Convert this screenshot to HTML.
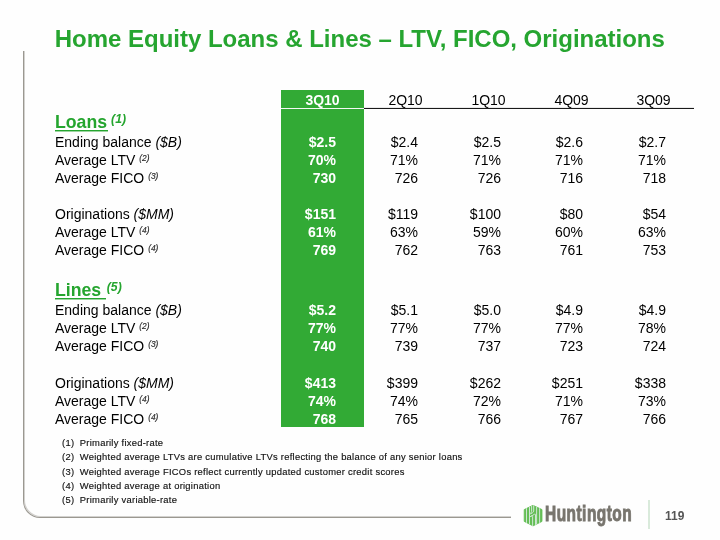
<!DOCTYPE html>
<html>
<head>
<meta charset="utf-8">
<style>
*{margin:0;padding:0;box-sizing:border-box}
html{background:#fefefe}body{width:720px;height:540px;overflow:hidden;will-change:transform}
body{position:relative;font-family:"Liberation Sans",Arial,sans-serif;color:#000}
.title{position:absolute;left:54.8px;top:25px;font-size:24px;font-weight:bold;color:#26a530;letter-spacing:-0.015px;white-space:nowrap;line-height:28px}
.frame{position:absolute;left:23px;top:51px;width:488px;height:467px;border-left:1px solid #9b9891;border-bottom:1px solid #9b9891;border-bottom-left-radius:17px;box-shadow:inset 1px -1px 0 rgba(160,158,150,0.45)}
.green{position:absolute;left:281px;top:90px;width:83px;height:337px;background:#32aa35}
.wline{position:absolute;left:281px;top:108px;width:83px;height:1px;background:#f4f8f4}
.bline{position:absolute;left:364px;top:108px;width:330px;height:1px;background:#1a1a1a;box-shadow:0 -1px 0 rgba(0,0,0,0.08)}
.row{position:absolute;left:0;width:720px;height:18px;line-height:18px;font-size:14px;white-space:nowrap}
.row .l{position:absolute;left:55px}
.row .v{position:absolute;text-align:right;width:80px}
.row .c1{left:256px;color:#fff;font-weight:bold}
.row .c2{left:338px}
.row .c3{left:421px}
.row .c4{left:503px}
.row .c5{left:586px}
.hdr .v{text-align:center;width:83px}
.hdr .c1{left:281px}
.hdr .c2{left:364px;font-weight:normal}
.hdr .c3{left:447px}
.hdr .c4{left:530px}
.hdr .c5{left:612px}
sup{font-size:8.4px;font-style:italic;color:#2a2a2a;vertical-align:0;position:relative;top:-4px;margin-left:0;-webkit-text-stroke:0.15px #2a2a2a}
.sec{position:absolute;left:55px;font-size:17.7px;font-weight:bold;color:#25a52f;line-height:20px;white-space:nowrap}
.sec i{font-size:12.2px;position:relative;top:-5px}
.ul{position:absolute;left:55px;height:1px;background:#25a52f;box-shadow:0 1px 0 rgba(37,165,47,0.45)}
.fn{position:absolute;left:62px;font-size:9.4px;letter-spacing:0.27px;line-height:14px;color:#111;white-space:nowrap;-webkit-text-stroke:0.15px #111}
.fn b{font-weight:normal;display:inline-block;width:17.8px}
.logo{position:absolute;left:522px;top:504px}
.ltxt{position:absolute;left:544.8px;top:502px;font-size:22.4px;font-weight:bold;color:#78756e;transform:scaleX(0.69);transform-origin:0 0;letter-spacing:0.7px;white-space:nowrap;line-height:24px;-webkit-text-stroke:1px #78756e}
.sep{position:absolute;left:648px;top:500px;width:2px;height:29px;background:#d9eadb}
.pg{position:absolute;left:665px;top:508px;font-size:12px;font-weight:bold;color:#555;line-height:16px}
</style>
</head>
<body>
<div class="title">Home Equity Loans &amp; Lines – LTV, FICO, Originations</div>
<div class="frame"></div>
<div class="green"></div>
<div class="wline"></div>
<div class="bline"></div>

<div class="row hdr" style="top:91px"><span class="v c1">3Q10</span><span class="v c2">2Q10</span><span class="v c3">1Q10</span><span class="v c4">4Q09</span><span class="v c5">3Q09</span></div>

<div class="sec" style="top:112px">Loans<i style="margin-left:4px">(1)</i></div><div class="ul" style="top:130px;width:52.6px"></div>
<div class="row" style="top:133px"><span class="l">Ending balance <i>($B)</i></span><span class="v c1">$2.5</span><span class="v c2">$2.4</span><span class="v c3">$2.5</span><span class="v c4">$2.6</span><span class="v c5">$2.7</span></div>
<div class="row" style="top:151px"><span class="l">Average LTV <sup>(2)</sup></span><span class="v c1">70%</span><span class="v c2">71%</span><span class="v c3">71%</span><span class="v c4">71%</span><span class="v c5">71%</span></div>
<div class="row" style="top:169px"><span class="l">Average FICO <sup>(3)</sup></span><span class="v c1">730</span><span class="v c2">726</span><span class="v c3">726</span><span class="v c4">716</span><span class="v c5">718</span></div>
<div class="row" style="top:205px"><span class="l">Originations <i>($MM)</i></span><span class="v c1">$151</span><span class="v c2">$119</span><span class="v c3">$100</span><span class="v c4">$80</span><span class="v c5">$54</span></div>
<div class="row" style="top:223px"><span class="l">Average LTV <sup>(4)</sup></span><span class="v c1">61%</span><span class="v c2">63%</span><span class="v c3">59%</span><span class="v c4">60%</span><span class="v c5">63%</span></div>
<div class="row" style="top:241px"><span class="l">Average FICO <sup>(4)</sup></span><span class="v c1">769</span><span class="v c2">762</span><span class="v c3">763</span><span class="v c4">761</span><span class="v c5">753</span></div>

<div class="sec" style="top:280px">Lines<i style="margin-left:5.6px">(5)</i></div><div class="ul" style="top:298px;width:51.4px"></div>
<div class="row" style="top:301px"><span class="l">Ending balance <i>($B)</i></span><span class="v c1">$5.2</span><span class="v c2">$5.1</span><span class="v c3">$5.0</span><span class="v c4">$4.9</span><span class="v c5">$4.9</span></div>
<div class="row" style="top:319px"><span class="l">Average LTV <sup>(2)</sup></span><span class="v c1">77%</span><span class="v c2">77%</span><span class="v c3">77%</span><span class="v c4">77%</span><span class="v c5">78%</span></div>
<div class="row" style="top:337px"><span class="l">Average FICO <sup>(3)</sup></span><span class="v c1">740</span><span class="v c2">739</span><span class="v c3">737</span><span class="v c4">723</span><span class="v c5">724</span></div>
<div class="row" style="top:374px"><span class="l">Originations <i>($MM)</i></span><span class="v c1">$413</span><span class="v c2">$399</span><span class="v c3">$262</span><span class="v c4">$251</span><span class="v c5">$338</span></div>
<div class="row" style="top:392px"><span class="l">Average LTV <sup>(4)</sup></span><span class="v c1">74%</span><span class="v c2">74%</span><span class="v c3">72%</span><span class="v c4">71%</span><span class="v c5">73%</span></div>
<div class="row" style="top:410px"><span class="l">Average FICO <sup>(4)</sup></span><span class="v c1">768</span><span class="v c2">765</span><span class="v c3">766</span><span class="v c4">767</span><span class="v c5">766</span></div>

<div class="fn" style="top:436px"><b>(1)</b>Primarily fixed-rate</div>
<div class="fn" style="top:450px"><b>(2)</b>Weighted average LTVs are cumulative LTVs reflecting the balance of any senior loans</div>
<div class="fn" style="top:465px"><b>(3)</b>Weighted average FICOs reflect currently updated customer credit scores</div>
<div class="fn" style="top:479px"><b>(4)</b>Weighted average at origination</div>
<div class="fn" style="top:493px"><b>(5)</b>Primarily variable-rate</div>

<svg class="logo" width="22" height="24" viewBox="522 504 22 24">
  <defs><clipPath id="hx"><polygon points="533,504.9 542.4,509.4 542.4,521.6 533,526.3 523.8,521.6 523.8,509.4"/></clipPath></defs>
  <polygon points="533,505.3 542,509.6 542,521.4 533,525.9 524.2,521.4 524.2,509.6" fill="#64be55" stroke="#64be55" stroke-width="0.8" stroke-linejoin="round"/>
  <g clip-path="url(#hx)" fill="none" stroke="#cfe6d2" stroke-width="1">
    <line x1="526.5" y1="504" x2="526.5" y2="528"/>
    <line x1="529.5" y1="504" x2="529.5" y2="528"/>
    <line x1="536.6" y1="504" x2="536.6" y2="528"/>
    <line x1="539.6" y1="504" x2="539.6" y2="528"/>
    <path d="M531.6 504 V511.6 Q531.6 512.6 530.6 513.1 L529.5 513.6"/>
    <path d="M533.7 504 V511 Q533.7 512 532.7 512.6 L530.4 514"/>
    <path d="M529.6 517 L532.2 515.6 Q532.6 515.4 532.6 516.4 V528"/>
    <path d="M531.2 516.2 L534.6 514.2 Q535.5 513.8 535.5 514.8 V528"/>
  </g>
</svg>
<div class="ltxt">Huntington</div>
<div class="sep"></div>
<div class="pg">119</div>
</body>
</html>
